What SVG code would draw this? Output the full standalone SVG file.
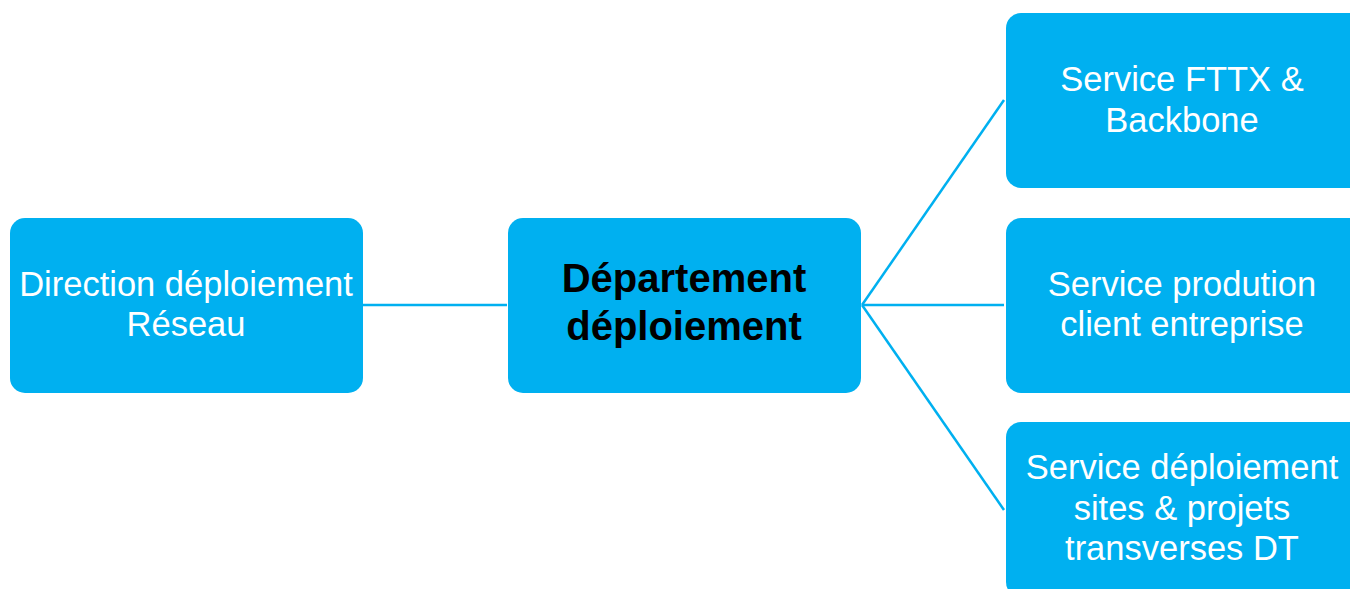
<svg xmlns="http://www.w3.org/2000/svg" width="1350" height="589" viewBox="0 0 1350 589">
<style>
.box{fill:#00B0F0;}
.t{font-family:"Liberation Sans",Arial,sans-serif;font-size:34.5px;fill:#FFFFFF;text-anchor:middle;}
.b{font-family:"Liberation Sans",Arial,sans-serif;font-size:40px;font-weight:bold;fill:#000000;text-anchor:middle;}
.c{stroke:#00B0F0;stroke-width:2.5;fill:none;}
</style>
<g id="connectors">
<line class="c" x1="363" y1="305" x2="507" y2="305"/>
<line class="c" x1="862" y1="305" x2="1004" y2="100"/>
<line class="c" x1="862" y1="305" x2="1004" y2="305"/>
<line class="c" x1="862" y1="305" x2="1004" y2="510"/>
</g>
<g id="direction">
<rect class="box" x="10" y="218" width="353" height="175" rx="15"/>
<text class="t" x="186" y="296">Direction déploiement</text>
<text class="t" x="186" y="336">Réseau</text>
</g>
<g id="departement">
<rect class="box" x="508" y="218" width="353" height="175" rx="15"/>
<text class="b" x="684" y="292">Département</text>
<text class="b" x="684" y="340">déploiement</text>
</g>
<g id="fttx">
<rect class="box" x="1006" y="13" width="360" height="175" rx="15"/>
<text class="t" x="1182" y="91">Service FTTX &amp;</text>
<text class="t" x="1182" y="132">Backbone</text>
</g>
<g id="production">
<rect class="box" x="1006" y="218" width="360" height="175" rx="15"/>
<text class="t" x="1182" y="296">Service prodution</text>
<text class="t" x="1182" y="336">client entreprise</text>
</g>
<g id="deploiement">
<rect class="box" x="1006" y="422" width="360" height="175" rx="15"/>
<text class="t" x="1182" y="479">Service déploiement</text>
<text class="t" x="1182" y="520">sites &amp; projets</text>
<text class="t" x="1182" y="560">transverses DT</text>
</g>
</svg>
